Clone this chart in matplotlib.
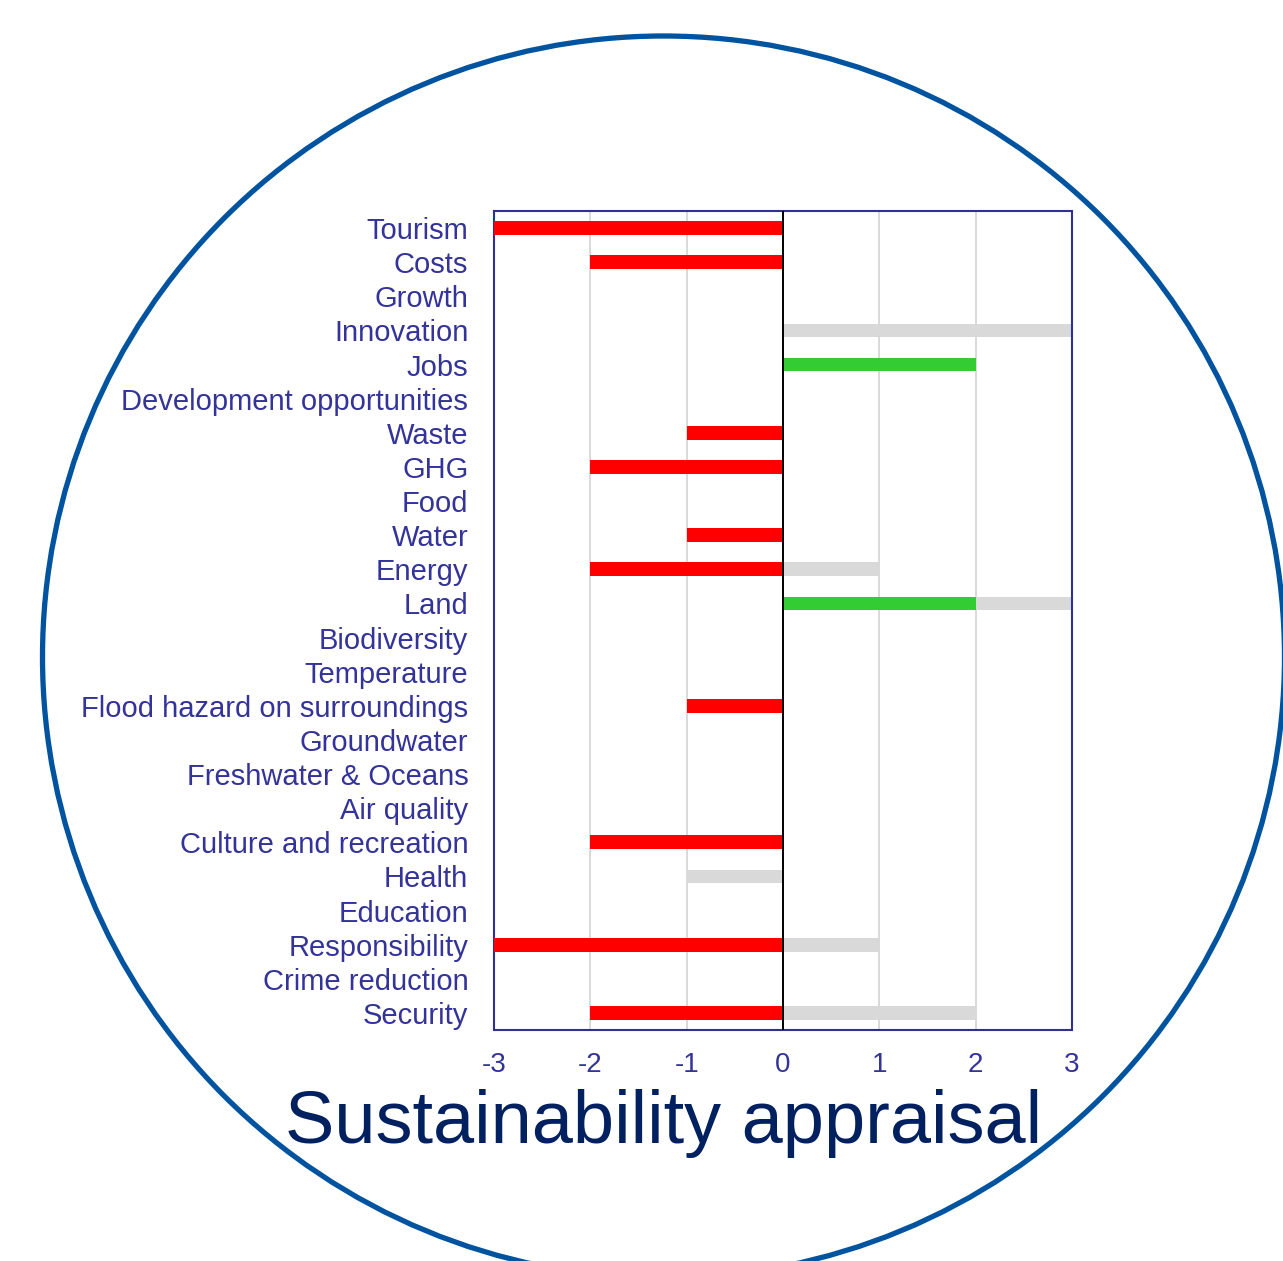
import numpy as np
import matplotlib.pyplot as plt
from matplotlib.patches import Circle

plt.rcParams['font.family'] = ['Liberation Sans', 'DejaVu Sans']

# categories top to bottom
categories = ['Tourism', 'Costs', 'Growth', 'Innovation', 'Jobs',
              'Development opportunities', 'Waste', 'GHG', 'Food', 'Water',
              'Energy', 'Land', 'Biodiversity', 'Temperature',
              'Flood hazard on surroundings', 'Groundwater',
              'Freshwater & Oceans', 'Air quality', 'Culture and recreation',
              'Health', 'Education', 'Responsibility', 'Crime reduction',
              'Security']
# main appraisal score (red if negative, green if positive)
score = [-3, -2, 0, 0, 2, 0, -1, -2, 0, -1, -2, 2, 0, 0, -1, 0, 0, 0, -2,
         0, 0, -3, 0, -2]
# grey (uncertain / potential) score
potential = [0, 0, 0, 3, 0, 0, 0, 0, 0, 0, 1, 3, 0, 0, 0, 0, 0, 0, 0,
             -1, 0, 1, 0, 2]
xticks = [-3, -2, -1, 0, 1, 2, 3]

W, H = 1283, 1261
fig = plt.figure(figsize=(W / 100, H / 100), dpi=100)

# background layer for the circle (pixel coords)
bg = fig.add_axes([0, 0, 1, 1])
bg.set_xlim(0, W)
bg.set_ylim(H, 0)
bg.axis('off')
bg.add_patch(Circle((663.5, 657), 621, fill=False, edgecolor='#00539F', linewidth=3.8))
bg.text(663.5, 1143, 'Sustainability appraisal', ha='center', va='baseline',
        fontsize=53.3, color='#002060')

ax = fig.add_axes([494 / W, 1 - 1030 / H, (1072 - 494) / W, (1030 - 211) / H])
y = np.arange(len(categories))
cols = ['#FF0000' if s < 0 else '#33CC33' for s in score]
ax.barh(y, potential, height=0.4, color='#D9D9D9', zorder=2)
ax.barh(y, score, height=0.4, color=cols, zorder=3)
ax.axvline(0, color='black', linewidth=1.4, zorder=4)

ax.set_xlim(-3, 3)
ax.set_ylim(len(categories) - 0.5, -0.5)
ax.set_xticks(xticks)
ax.set_xticklabels([str(t) for t in xticks])
ax.set_yticks(y)
ax.set_yticklabels(categories)
ax.grid(axis='x', color='#D9D9D9', linewidth=1.4, zorder=1)
ax.set_axisbelow(True)
ax.tick_params(axis='y', length=0, pad=18.5, labelsize=21, labelcolor='#333399')
ax.tick_params(axis='x', length=0, pad=16, labelsize=20, labelcolor='#333399')
for sp in ax.spines.values():
    sp.set_color('#2E3192')
    sp.set_linewidth(1.5)

fig.savefig('out.png', dpi=100)
